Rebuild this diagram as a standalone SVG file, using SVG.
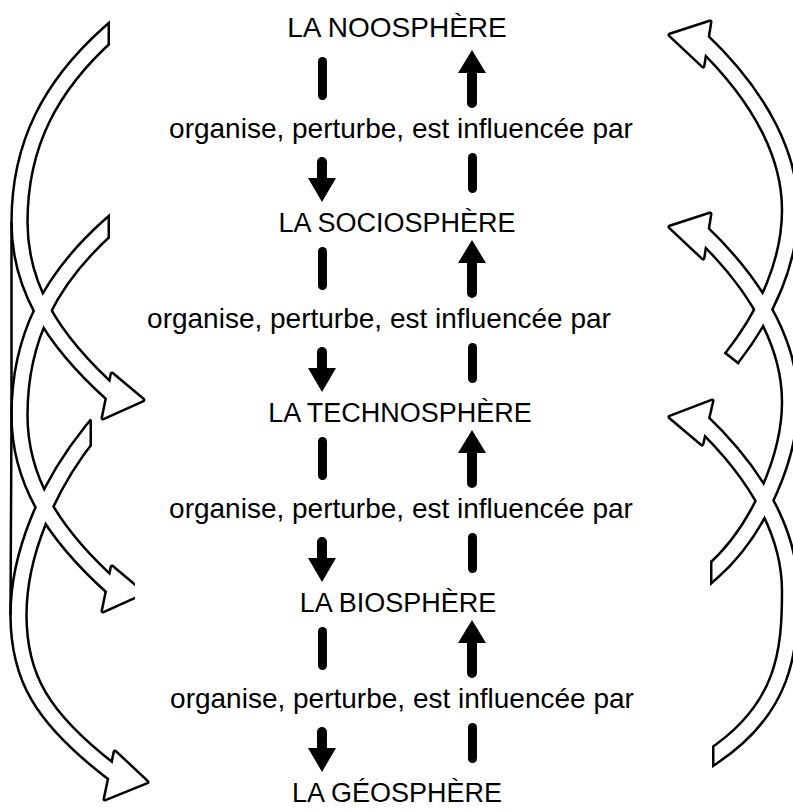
<svg xmlns="http://www.w3.org/2000/svg" width="793" height="812" viewBox="0 0 793 812">
<style>
  .lbl{font-family:"Liberation Sans",Arial,sans-serif;font-size:27px;fill:#000;text-anchor:middle}
  .rel{font-family:"Liberation Sans",Arial,sans-serif;font-size:28px;fill:#000;text-anchor:middle}
  .bo{fill:none;stroke:#000;stroke-width:18.5;stroke-linecap:butt}
  .bi{fill:none;stroke:#fff;stroke-width:13.5;stroke-linecap:butt}
  .ho{fill:#000;stroke:#000;stroke-width:5;stroke-linejoin:round}
  .hi{fill:#fff;stroke:none}
  .ln{fill:none;stroke:#000;stroke-width:2.5;stroke-linecap:butt}
  .blk{fill:#000;stroke:none}
</style>
<defs>
  <path id="pL1" d="M117,26.35 L109.5,33 C50,86 19.5,145 19.5,222 C19.5,285 50,338 113,394.5"/>
  <path id="pL2" d="M117,219.35 L109.5,226 C50,279 19.5,338 19.5,415 C19.5,478 50,531 113,587.5"/>
  <path id="pL3" d="M97.3,424.2 L91,432 C46.9,486.6 18.5,555 18.5,615 C18.5,675 39.3,717.5 116,775"/>
  <path id="pR1" d="M700,39 C765.4,101.2 790,160 790,210 C790,260 768.2,311.6 731,359"/>
  <path id="pR2" d="M700,231 C765.4,293.2 790,352 790,402 C790,455 760,530 712,572 L700,582.5"/>
  <path id="pR3" d="M700,420 C765.4,482.2 790,541 790,591 C790,651 785,708.6 712,757 L699.5,765.3"/>
  <polygon id="hL1" points="112,374 143,400 103,418"/>
  <polygon id="hL2" points="112,567 143,593 103,611"/>
  <polygon id="hL3" points="115,752 147,782 105,799"/>
  <polygon id="hR1" points="710,22 670,35 703,66"/>
  <polygon id="hR2" points="710,214 670,227 703,258"/>
  <polygon id="hR3" points="712,401 670,417 702,444"/>
  <path id="dn" d="M317,162 A5,5 0 0 1 327,162 V178 H336 L322,202 L308,178 H317 Z"/>
  <path id="up" d="M472,50 L486,73 H477 V103 A5,5 0 0 1 467,103 V73 H458 Z"/>
  <rect id="barL" x="318" y="57" width="9" height="43" rx="4.5"/>
  <rect id="barR" x="468" y="153" width="9" height="40" rx="4.5"/>
  <clipPath id="cL1a"><path d="M0,0 H110 V80 H793 V812 H0 Z"/></clipPath>
  <clipPath id="cL1b"><path d="M0,0 H107.5 V80 H793 V812 H0 Z"/></clipPath>
  <clipPath id="cL2a"><path d="M0,0 H793 V190 H110 V260 H793 V540 H135 V640 H793 V812 H0 Z"/></clipPath>
  <clipPath id="cL2b"><path d="M0,0 H793 V190 H107.5 V260 H793 V812 H0 Z"/></clipPath>
  <clipPath id="cL3a"><path d="M0,0 H793 V400 H92 V460 H793 V812 H0 Z"/></clipPath>
  <clipPath id="cL3b"><path d="M0,0 H793 V400 H89.5 V460 H793 V812 H0 Z"/></clipPath>
  <clipPath id="cR2a"><path d="M0,0 H793 V812 H0 V600 H710 V540 H0 Z"/></clipPath>
  <clipPath id="cR2b"><path d="M0,0 H793 V812 H0 V600 H712.5 V540 H0 Z"/></clipPath>
  <clipPath id="cR3a"><path d="M0,0 H793 V812 H0 V790 H712 V730 H0 Z"/></clipPath>
  <clipPath id="cR3b"><path d="M0,0 H793 V812 H0 V790 H714.5 V730 H0 Z"/></clipPath>
</defs>
<rect width="793" height="812" fill="#fff"/>

<g id="connectors">
  <g id="loop-arrows">
    <g id="loop-outlines">
      <g clip-path="url(#cL1a)"><use href="#pL1" class="bo"/><use href="#hL1" class="ho"/></g>
      <g clip-path="url(#cL2a)"><use href="#pL2" class="bo"/><use href="#hL2" class="ho"/></g>
      <g clip-path="url(#cL3a)"><use href="#pL3" class="bo"/><use href="#hL3" class="ho"/></g>
      <use href="#pR1" class="bo"/><use href="#hR1" class="ho"/>
      <g clip-path="url(#cR2a)"><use href="#pR2" class="bo"/><use href="#hR2" class="ho"/></g>
      <g clip-path="url(#cR3a)"><use href="#pR3" class="bo"/><use href="#hR3" class="ho"/></g>
    </g>
    <g id="loop-fills">
      <g clip-path="url(#cL1b)"><use href="#pL1" class="bi"/><use href="#hL1" class="hi"/></g>
      <g clip-path="url(#cL2b)"><use href="#pL2" class="bi"/><use href="#hL2" class="hi"/></g>
      <g clip-path="url(#cL3b)"><use href="#pL3" class="bi"/><use href="#hL3" class="hi"/></g>
      <use href="#pR1" class="bi"/><use href="#hR1" class="hi"/>
      <g clip-path="url(#cR2b)"><use href="#pR2" class="bi"/><use href="#hR2" class="hi"/></g>
      <g clip-path="url(#cR3b)"><use href="#pR3" class="bi"/><use href="#hR3" class="hi"/></g>
    </g>
    <path class="ln" d="M739.05,363.73 L724.49,352.31"/>
    <path id="left-edge" class="ln" d="M11.5,222 L11.5,415 L10.5,615"/>
  </g>
  <g id="vertical-arrows" class="blk">
    <use href="#barL"/><use href="#dn"/><use href="#up"/><use href="#barR"/>
    <use href="#barL" transform="translate(0,190)"/><use href="#dn" transform="translate(0,190)"/><use href="#up" transform="translate(0,190)"/><use href="#barR" transform="translate(0,190)"/>
    <use href="#barL" transform="translate(0,380)"/><use href="#dn" transform="translate(0,380)"/><use href="#up" transform="translate(0,380)"/><use href="#barR" transform="translate(0,380)"/>
    <use href="#barL" transform="translate(0,570)"/><use href="#dn" transform="translate(0,570)"/><use href="#up" transform="translate(0,570)"/><use href="#barR" transform="translate(0,570)"/>
  </g>
  <g id="relation-labels">
    <text class="rel" x="401" y="138">organise, perturbe, est influencée par</text>
    <text class="rel" x="379" y="328">organise, perturbe, est influencée par</text>
    <text class="rel" x="401" y="518">organise, perturbe, est influencée par</text>
    <text class="rel" x="402" y="708">organise, perturbe, est influencée par</text>
  </g>
</g>

<g id="noosphere"><text class="lbl" x="397" y="37" style="font-size:28px">LA NOOSPHÈRE</text></g>
<g id="sociosphere"><text class="lbl" x="397" y="232">LA SOCIOSPHÈRE</text></g>
<g id="technosphere"><text class="lbl" x="400" y="422">LA TECHNOSPHÈRE</text></g>
<g id="biosphere"><text class="lbl" x="398" y="612">LA BIOSPHÈRE</text></g>
<g id="geosphere"><text class="lbl" x="397" y="802">LA GÉOSPHÈRE</text></g>
</svg>
